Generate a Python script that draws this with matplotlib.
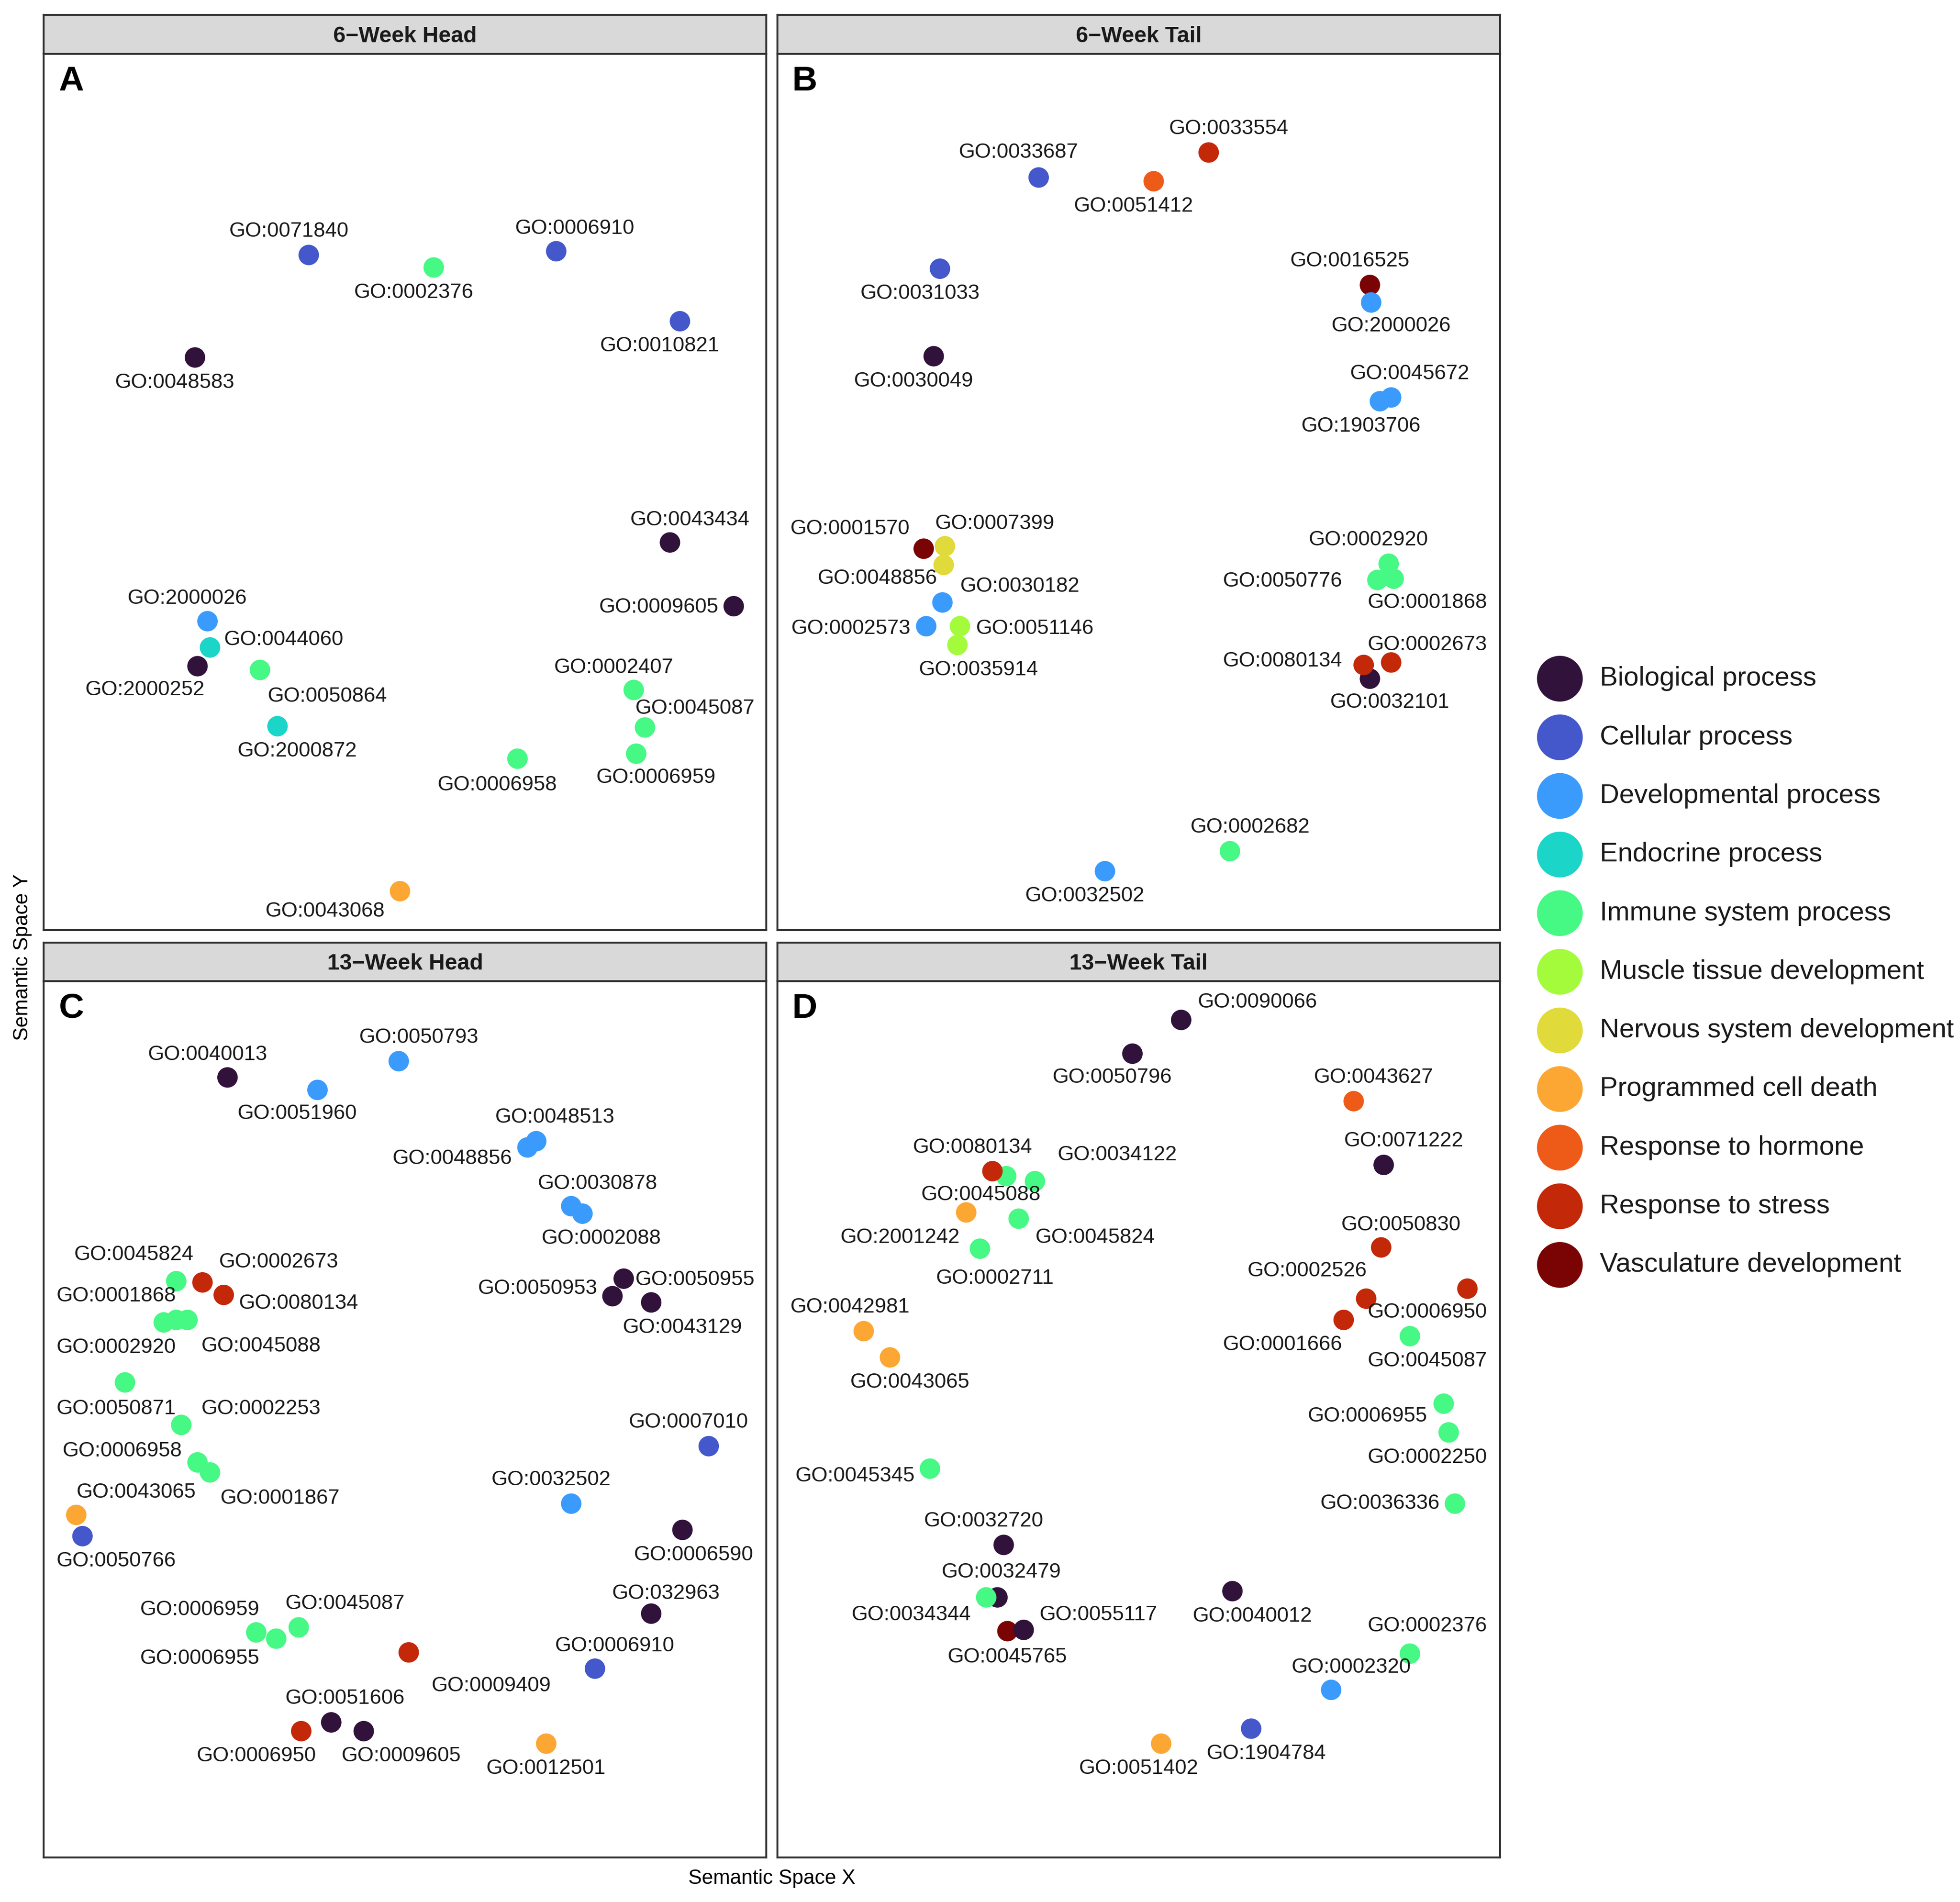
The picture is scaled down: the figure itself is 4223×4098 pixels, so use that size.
import matplotlib
matplotlib.use("Agg")
import matplotlib.pyplot as plt

plt.rcParams["font.family"] = ["Liberation Sans", "DejaVu Sans"]

W_PX, H_PX, DPI = 4223, 4098, 300
# layout was measured on a 1568 x 1522 preview of the figure
PREV_W, PREV_H = 1568.1, 1521.7
PX_TO_PT = (W_PX / PREV_W) * 72 / DPI

BIO = "Biological process"
CEL = "Cellular process"
DEV = "Developmental process"
END = "Endocrine process"
IMM = "Immune system process"
MUS = "Muscle tissue development"
NER = "Nervous system development"
PCD = "Programmed cell death"
HOR = "Response to hormone"
STR = "Response to stress"
VAS = "Vasculature development"

categories = [BIO, CEL, DEV, END, IMM, MUS, NER, PCD, HOR, STR, VAS]
category_colors = ["#30123B", "#4458CB", "#3A9BFD", "#1BD5C8", "#46F884", "#A4FB3C",
                   "#E0DA3A", "#FCA634", "#EE5A18", "#C32808", "#7A0403"]

panel_titles = ["6\u2212Week Head", "6\u2212Week Tail", "13\u2212Week Head", "13\u2212Week Tail"]
panel_letters = ["A", "B", "C", "D"]

# ---- 6-week head
head6_terms = ["GO:0071840", "GO:0002376", "GO:0006910", "GO:0010821", "GO:0048583",
               "GO:0043434", "GO:0009605", "GO:2000026", "GO:0044060", "GO:2000252",
               "GO:0050864", "GO:2000872", "GO:0002407", "GO:0045087", "GO:0006959",
               "GO:0006958", "GO:0043068"]
head6_cat = [CEL, IMM, CEL, CEL, BIO, BIO, BIO, DEV, END, BIO, IMM, END, IMM, IMM, IMM, IMM, PCD]
head6_x = [212, 312, 410, 509, 121, 501, 552, 131, 133, 123, 173, 187, 472, 481, 474, 379, 285]
head6_y = [540, 530, 543, 487, 458, 310, 259, 247, 226, 211, 208, 163, 192, 162, 141, 137, 31]

# ---- 6-week tail
tail6_terms = ["GO:0033687", "GO:0033554", "GO:0051412", "GO:0031033", "GO:0016525",
               "GO:2000026", "GO:0030049", "GO:0045672", "GO:1903706", "GO:0001570",
               "GO:0007399", "GO:0048856", "GO:0030182", "GO:0002573", "GO:0051146",
               "GO:0035914", "GO:0002920", "GO:0050776", "GO:0001868", "GO:0032101",
               "GO:0080134", "GO:0002673", "GO:0002682", "GO:0032502"]
tail6_cat = [CEL, STR, HOR, CEL, VAS, DEV, BIO, DEV, DEV, VAS, NER, NER, DEV, DEV, MUS,
             MUS, IMM, IMM, IMM, BIO, STR, STR, IMM, DEV]
tail6_x = [209, 345, 301, 130, 474, 475, 125, 491, 482, 117, 134, 133, 132, 119, 146,
           144, 489, 480, 493, 474, 469, 491, 362, 262]
tail6_y = [602, 622, 599, 529, 516, 502, 459, 426, 423, 305, 307, 292, 262, 243, 243,
           228, 293, 280, 281, 201, 212, 214, 63, 47]

# ---- 13-week head
head13_terms = ["GO:0040013", "GO:0051960", "GO:0050793", "GO:0048513", "GO:0048856",
                "GO:0030878", "GO:0002088", "GO:0045824", "GO:0002673", "GO:0080134",
                "GO:0001868", "GO:0045088", "GO:0002920", "GO:0050953", "GO:0050955",
                "GO:0043129", "GO:0050871", "GO:0002253", "GO:0006958", "GO:0001867",
                "GO:0043065", "GO:0050766", "GO:0007010", "GO:0032502", "GO:0006590",
                "GO:032963", "GO:0006910", "GO:0006959", "GO:0045087", "GO:0006955",
                "GO:0009409", "GO:0051606", "GO:0006950", "GO:0009605", "GO:0012501"]
head13_cat = [BIO, DEV, DEV, DEV, DEV, DEV, DEV, IMM, STR, STR, IMM, IMM, IMM, BIO, BIO,
              BIO, IMM, IMM, IMM, IMM, PCD, CEL, CEL, DEV, BIO, BIO, CEL, IMM, IMM, IMM,
              STR, BIO, STR, BIO, PCD]
head13_x = [147, 219, 284, 394, 387, 422, 431, 106, 127, 144, 96, 115, 106, 455, 464,
            486, 65, 110, 123, 133, 26, 31, 532, 422, 511, 486, 441, 170, 204, 186,
            292, 230, 206, 256, 402]
head13_y = [624, 614, 637, 573, 568, 521, 515, 461, 460, 450, 428, 430, 430, 449, 463,
            444, 380, 346, 316, 308, 274, 257, 329, 283, 262, 195, 151, 180, 184, 175,
            164, 108, 101, 101, 91]

# ---- 13-week tail
tail13_terms = ["GO:0090066", "GO:0050796", "GO:0043627", "GO:0045088", "GO:0080134",
                "GO:0034122", "GO:2001242", "GO:0045824", "GO:0002711", "GO:0071222",
                "GO:0050830", "GO:0002526", "GO:0006950", "GO:0001666", "GO:0045087",
                "GO:0042981", "GO:0043065", "GO:0006955", "GO:0002250", "GO:0045345",
                "GO:0036336", "GO:0032720", "GO:0032479", "GO:0034344", "GO:0045765",
                "GO:0055117", "GO:0040012", "GO:0002376", "GO:0002320", "GO:1904784",
                "GO:0051402"]
tail13_cat = [BIO, BIO, HOR, IMM, STR, IMM, PCD, IMM, IMM, BIO, STR, STR, STR, STR, IMM,
              PCD, PCD, IMM, IMM, IMM, IMM, BIO, BIO, IMM, VAS, BIO, BIO, IMM, DEV, CEL, PCD]
tail13_x = [323, 284, 461, 183, 172, 206, 151, 193, 162, 485, 483, 471, 552, 453, 506,
            69, 90, 533, 537, 122, 542, 181, 176, 167, 184, 197, 364, 506, 443, 379, 307]
tail13_y = [670, 643, 605, 545, 549, 541, 516, 511, 487, 554, 488, 447, 455, 430, 417,
            421, 400, 363, 340, 311, 283, 250, 208, 208, 181, 182, 213, 163, 134, 103, 91]

# label placement (repel result), preview px offset from the point, +dy = down
head6_nudge = [(-16, -19), (-16, 20), (15, -18), (-16, 20), (-16, 20), (16, -18), (-60, 1),
               (-16, -18), (59, -6), (-42, 19), (54, 21), (16, 20), (-16, -18), (40, -15),
               (16, 19), (-16, 21), (-60, 16)]
tail6_nudge = [(-16, -20), (16, -19), (-16, 20), (-16, 20), (-16, -19), (16, 19), (-16, 20),
               (15, -19), (-15, 20), (-59, -16), (40, -18), (-53, 11), (62, -13), (-60, 2),
               (60, 2), (17, 20), (-16, -19), (-76, 1), (27, 19), (16, 19), (-65, -3),
               (29, -14), (16, -19), (-16, 20)]
head13_nudge = [(-16, -18), (-16, 19), (16, -19), (15, -19), (-60, 9), (21, -18), (15, 20),
                (-34, -21), (61, -16), (60, 7), (-38, -21), (59, 21), (-48, 22), (-60, -6),
                (57, 1), (25, 20), (-7, 21), (64, -13), (-60, -9), (56, 21), (48, -18),
                (27, 20), (-16, -19), (-16, -19), (9, 20), (12, -16), (16, -18), (-45, -18),
                (37, -19), (-61, 16), (66, 27), (11, -19), (-36, 20), (30, 20), (0, 20)]
tail13_nudge = [(61, -14), (-16, 19), (16, -19), (-20, 15), (-16, -19), (66, -21), (-53, 20),
                (61, 15), (12, 24), (16, -19), (16, -18), (-47, -22), (-32, 19), (-49, 20),
                (14, 20), (-11, -19), (16, 20), (-61, 10), (-17, 20), (-60, 6), (-60, 0),
                (-16, -19), (3, -20), (-60, 14), (0, 21), (60, -12), (16, 20), (14, -22),
                (16, -18), (12, 20), (-18, 20)]

panels = [
    (head6_terms, head6_cat, head6_x, head6_y, head6_nudge),
    (tail6_terms, tail6_cat, tail6_x, tail6_y, tail6_nudge),
    (head13_terms, head13_cat, head13_x, head13_y, head13_nudge),
    (tail13_terms, tail13_cat, tail13_x, tail13_y, tail13_nudge),
]
# preview px boxes: (left, top, right, bottom) for each panel body
panel_boxes = [(35, 43, 613, 744), (622, 43, 1200, 744),
               (35, 785, 613, 1486), (622, 785, 1200, 1486)]
STRIP_H = 31

color_of = dict(zip(categories, category_colors))


def fig_rect(x0, y0, x1, y1):
    return [x0 / PREV_W, 1 - y1 / PREV_H, (x1 - x0) / PREV_W, (y1 - y0) / PREV_H]


def style_frame(ax):
    ax.set_xticks([])
    ax.set_yticks([])
    for sp in ax.spines.values():
        sp.set_color("#333333")
        sp.set_linewidth(1.0)


fig = plt.figure(figsize=(W_PX / DPI, H_PX / DPI), dpi=DPI)

for (terms, cats, xs, ys, nudges), box, title, letter in zip(panels, panel_boxes,
                                                               panel_titles, panel_letters):
    x0, y0, x1, y1 = box
    ax = fig.add_axes(fig_rect(x0, y0, x1, y1))
    ax.set_xlim(0, x1 - x0)
    ax.set_ylim(0, y1 - y0)
    style_frame(ax)
    ax.scatter(xs, ys, s=112, c=[color_of[c] for c in cats], linewidths=0, zorder=3)
    for term, x, y, (dx, dy) in zip(terms, xs, ys, nudges):
        ax.annotate(term, (x, y), xytext=(dx * PX_TO_PT, -dy * PX_TO_PT),
                    textcoords="offset points", ha="center", va="center",
                    fontsize=10.8, color="#1a1a1a", zorder=4)
    ax.text(22 / (x1 - x0), 1 - 22 / (y1 - y0), letter, transform=ax.transAxes,
            ha="center", va="center", fontsize=18, fontweight="bold")

    sax = fig.add_axes(fig_rect(x0, y0 - STRIP_H, x1, y0))
    sax.set_facecolor("#D9D9D9")
    style_frame(sax)
    sax.text(0.5, 0.45, title, transform=sax.transAxes, ha="center", va="center",
             fontsize=11.5, fontweight="bold", color="#1a1a1a")

fig.text(617.5 / PREV_W, 1 - 1503 / PREV_H, "Semantic Space X", ha="center", va="center",
         fontsize=10.5)
fig.text(18 / PREV_W, 1 - 766 / PREV_H, "Semantic Space Y", ha="center", va="center",
         rotation=90, fontsize=10.5)

# legend drawn as its own small axes
lax = fig.add_axes(fig_rect(1225, 543 - 23.45, 1568, 1012 + 23.45))
lax.set_xlim(0, 1)
lax.set_ylim(len(categories) - 0.5, -0.5)
lax.axis("off")
idx = list(range(len(categories)))
lax.scatter([0.067] * len(idx), idx, s=560, c=category_colors, linewidths=0)
for i, name in zip(idx, categories):
    lax.text(0.16, i, name, ha="left", va="center", fontsize=13.9, color="#1a1a1a")

fig.savefig("out.png", dpi=DPI)
